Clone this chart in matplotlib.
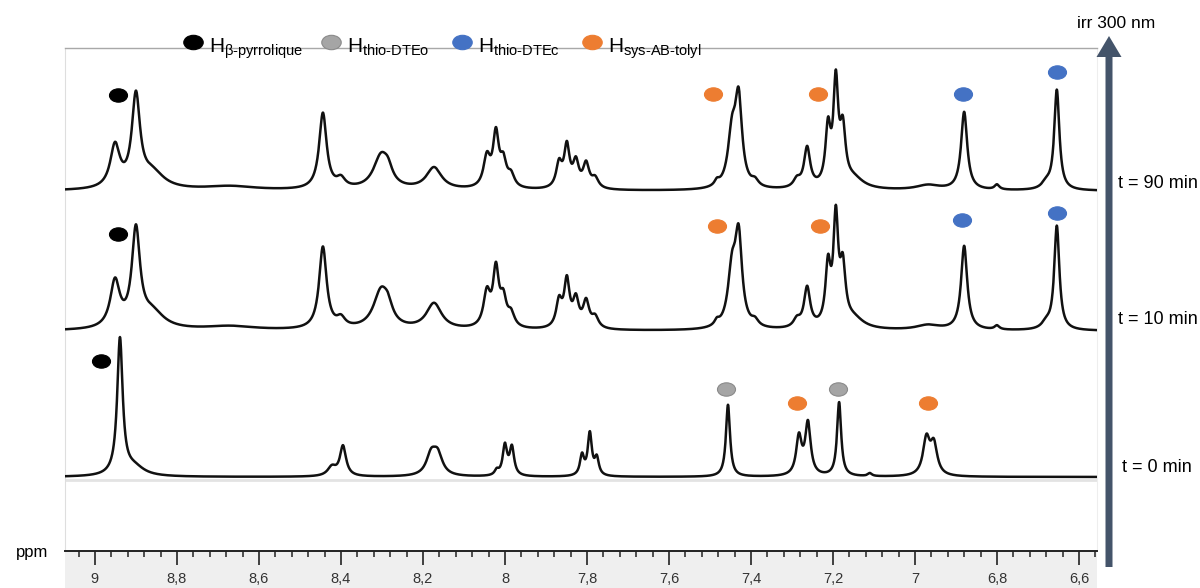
"""
1H NMR spectra under irradiation at 300 nm (t = 0, 10, 90 min).
"""

import matplotlib.pyplot as plt
import numpy as np
from matplotlib.patches import FancyArrow
from matplotlib.path import Path
from matplotlib.ticker import FuncFormatter, MultipleLocator
from matplotlib.transforms import Affine2D

plt.rcParams["font.family"] = ["Liberation Sans", "DejaVu Sans"]
plt.rcParams["mathtext.fontset"] = "custom"
plt.rcParams["mathtext.rm"] = "Liberation Sans"
plt.rcParams["mathtext.it"] = "Liberation Sans:italic"

# ---- data (ppm, peak amplitude, line width in ppm) ----
trace_labels = ["t = 0 min", "t = 10 min", "t = 90 min"]
trace_offsets = [74, 220, 360]

# t = 0 min (open form)
t0_ppm = [8.939, 8.905, 8.422, 8.395, 8.180, 8.164, 8.020, 8.000, 7.983,
          7.812, 7.793, 7.776, 7.456, 7.283, 7.261, 7.185, 7.110, 6.972, 6.954]
t0_amp = [136, 9, 9, 30, 20, 20, 5, 30, 28,
          20, 42, 17, 72, 38, 52, 74, 3, 36, 30]
t0_wid = [0.016, 0.06, 0.025, 0.018, 0.028, 0.028, 0.012, 0.013, 0.013,
          0.012, 0.012, 0.012, 0.012, 0.016, 0.016, 0.012, 0.012, 0.02, 0.02]

# t = 10 and 90 min (photostationary mixture)
pss_ppm = [8.951, 8.900, 8.860, 8.670, 8.444, 8.400, 8.302, 8.285, 8.173,
           8.044, 8.022, 8.004, 7.985, 7.868, 7.849, 7.827, 7.802, 7.780,
           7.483, 7.446, 7.430, 7.390, 7.288, 7.263, 7.212, 7.193, 7.176,
           7.150, 6.968, 6.880, 6.800, 6.680, 6.654]
pss_wid = [0.028, 0.024, 0.07, 0.15, 0.022, 0.025, 0.045, 0.025, 0.045,
           0.02, 0.017, 0.018, 0.02, 0.017, 0.016, 0.017, 0.018, 0.02,
           0.014, 0.024, 0.02, 0.02, 0.02, 0.018, 0.015, 0.014, 0.016,
           0.06, 0.07, 0.018, 0.014, 0.025, 0.015]
t10_amp = [46, 96, 16, 4, 82, 9, 38, 12, 26,
           34, 56, 26, 13, 26, 46, 27, 26, 11,
           5, 55, 86, 6, 8, 40, 58, 104, 54,
           10, 5, 84, 4, 6, 104]
t90_amp = [42, 90, 16, 4, 76, 9, 33, 11, 22,
           30, 52, 24, 12, 24, 41, 25, 24, 10,
           5, 52, 84, 6, 8, 40, 56, 100, 52,
           10, 5, 78, 5, 6, 100]

# annotation dots: ppm, height above baseline, proton type
t0_dot_ppm = [8.985, 7.461, 7.288, 7.188, 6.968]
t0_dot_h = [116, 88, 74, 88, 74]
t0_dot_kind = ["pyr", "dteo", "tolyl", "dteo", "tolyl"]
t10_dot_ppm = [8.944, 7.483, 7.232, 6.885, 6.654]
t10_dot_h = [97, 105, 105, 111, 118]
t10_dot_kind = ["pyr", "tolyl", "tolyl", "dtec", "dtec"]
t90_dot_ppm = [8.944, 7.493, 7.237, 6.883, 6.654]
t90_dot_h = [96, 97, 97, 97, 119]
t90_dot_kind = ["pyr", "tolyl", "tolyl", "dtec", "dtec"]

legend_kinds = ["pyr", "dteo", "dtec", "tolyl"]
legend_labels = [r"H$_{\text{β-pyrrolique}}$", r"H$_{\text{thio-DTEo}}$",
                 r"H$_{\text{thio-DTEc}}$", r"H$_{\text{sys-AB-tolyl}}$"]
kind_colors = {"pyr": "#000000", "dteo": "#a5a5a5",
               "dtec": "#4472c4", "tolyl": "#ed7d31"}
kind_edges = {"pyr": "#000000", "dteo": "#8a8a8a",
              "dtec": "#4472c4", "tolyl": "#ed7d31"}

ppm_min, ppm_max = 6.556, 9.073

# flattened ellipse marker
ellipse = Path.unit_circle().transformed(Affine2D().scale(1.0, 0.74))


def spectrum(x, centers, amps, widths):
    y = np.zeros_like(x)
    for c, a, w in zip(centers, amps, widths):
        y += a / (1.0 + ((x - c) / (w / 2.0)) ** 2)
    return y


fig = plt.figure(figsize=(12, 5.88), dpi=100)

# grey ruler band
band = fig.add_axes([65 / 1200, 0, 1032 / 1200, 37 / 588])
band.set_facecolor("#efefef")
band.set_xticks([])
band.set_yticks([])
for s in band.spines.values():
    s.set_visible(False)

ax = fig.add_axes([65 / 1200, 37 / 588, 1032 / 1200, 503 / 588])
ax.patch.set_alpha(0)
ax.set_xlim(ppm_max, ppm_min)
ax.set_ylim(0, 503)

x = np.linspace(ppm_min, ppm_max, 4000)
series = [(t0_ppm, t0_amp, t0_wid), (pss_ppm, t10_amp, pss_wid),
          (pss_ppm, t90_amp, pss_wid)]
dots = [(t0_dot_ppm, t0_dot_h, t0_dot_kind),
        (t10_dot_ppm, t10_dot_h, t10_dot_kind),
        (t90_dot_ppm, t90_dot_h, t90_dot_kind)]

ax.axhline(trace_offsets[0] - 3, color="#e3e3e3", lw=2, zorder=1)

for (cen, amp, wid), (dp, dh, dk), off in zip(series, dots, trace_offsets):
    y = spectrum(x, cen, amp, wid) + off
    ax.plot(x, y, color="#111111", lw=1.8, zorder=3)
    for p, h, k in zip(dp, dh, dk):
        ax.plot(p, off + h, marker=ellipse, ms=13, color=kind_colors[k],
                mec=kind_edges[k], mew=0.8, ls="none", zorder=4)

# ruler axis
ax.xaxis.set_major_locator(MultipleLocator(0.2))
ax.xaxis.set_minor_locator(MultipleLocator(0.04))
ax.xaxis.set_major_formatter(
    FuncFormatter(lambda v, _: f"{v:.1f}".rstrip("0").rstrip(".").replace(".", ",")))
ax.tick_params(axis="x", which="major", length=10, width=1.2, pad=5,
               labelsize=10.5, labelcolor="#333333", color="#222222")
ax.tick_params(axis="x", which="minor", length=4, width=1.1, color="#222222")
ax.set_yticks([])
ax.spines["bottom"].set_color("#222222")
ax.spines["bottom"].set_linewidth(1.4)
ax.spines["top"].set_color("#a8a8a8")
ax.spines["top"].set_linewidth(1.0)
ax.spines["left"].set_color("#dedede")
ax.spines["left"].set_linewidth(0.8)
ax.spines["right"].set_color("#eeeeee")
ax.spines["right"].set_linewidth(0.8)

# overlay in pixel units for labels, legend and arrow
ov = fig.add_axes([0, 0, 1, 1])
ov.set_xlim(0, 1200)
ov.set_ylim(588, 0)
ov.axis("off")
ov.patch.set_alpha(0)

ov.text(32, 552, "ppm", fontsize=12, ha="center", va="center")

label_x = [1122, 1118, 1118]
label_y = [468, 319, 183]
for lx, ly, lab in zip(label_x, label_y, trace_labels):
    ov.text(lx, ly, lab, fontsize=13, ha="left", va="center")

ov.add_patch(FancyArrow(1109, 567, 0, -531, width=7, head_width=25,
                        head_length=21, length_includes_head=True,
                        color="#44546a", lw=0))
ov.text(1116, 23, "irr 300 nm", fontsize=12.5, ha="center", va="center")

legend_dot_x = [193, 331, 462, 592]
for dx, k, lab in zip(legend_dot_x, legend_kinds, legend_labels):
    ov.plot(dx, 42, marker=ellipse, ms=14, color=kind_colors[k],
            mec=kind_edges[k], mew=0.8, ls="none")
    ov.text(dx + 16, 53, lab, fontsize=15, ha="left", va="baseline")

fig.savefig("out.png", dpi=100)
